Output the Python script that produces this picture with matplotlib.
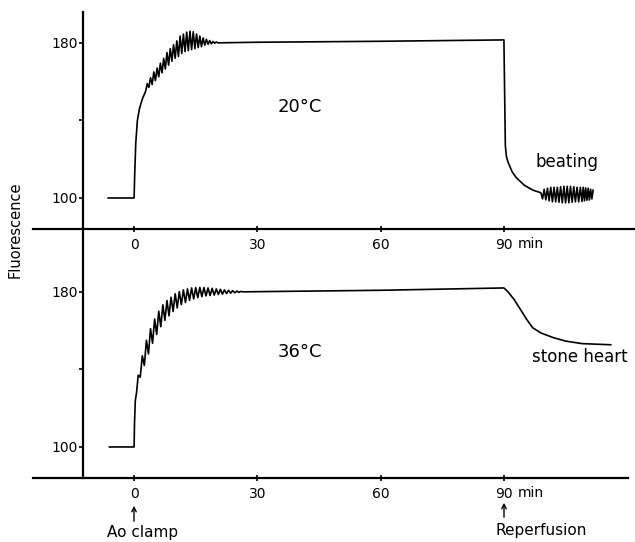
import matplotlib
matplotlib.use("Agg")
import matplotlib.pyplot as plt

# ---------------- data ----------------
# 20 °C panel (beating heart after reperfusion)
t20 = [-6.3, 0.0, 0.15, 0.4, 0.8, 1.3, 2.0, 2.8,
       3.2, 3.6, 4.0, 4.4, 4.8, 5.2, 5.6, 6.0, 6.4, 6.8, 7.2, 7.6, 8.0, 8.4,
       8.8, 9.2, 9.6, 10.0, 10.4, 10.8, 11.2, 11.6, 12.0, 12.4, 12.8, 13.2,
       13.6, 14.0, 14.4, 14.8, 15.2, 15.6, 16.0, 16.4, 16.8, 17.2, 17.6, 18.0,
       18.4, 18.8, 19.2, 19.6, 20.0, 20.4,
       30.0, 60.0, 89.8, 90.0, 90.2, 90.35, 90.6, 91.0, 92.0, 93.0, 95.0, 97.1, 99.0,
       99.4, 99.8, 100.2, 100.6, 101.0, 101.4, 101.8, 102.2, 102.6, 103.0,
       103.4, 103.8, 104.2, 104.6, 105.0, 105.4, 105.8, 106.2, 106.6, 107.0,
       107.4, 107.8, 108.2, 108.6, 109.0, 109.3, 109.6, 109.9, 110.2, 110.5,
       110.8, 111.1, 111.4, 111.7]
v20 = [100, 100, 112, 128, 140, 146, 151, 155,
       159, 157, 162, 158.5, 165, 160.5, 167, 162.5, 169.5, 164.5, 172, 166.5, 175, 168.5,
       177, 170.5, 179, 172, 181, 173, 183.5, 174.5, 184.5, 175.5, 185.5, 176,
       186, 176.5, 185.7, 177, 184.5, 177.5, 183.5, 178, 182.5, 178.8, 181.8, 179.2,
       181.2, 179.5, 180.7, 179.8, 180.4, 180.0,
       180.3, 180.8, 181.5, 181.5, 150, 127, 121.5, 118.5, 113.5, 110.5, 106.5, 104.0, 102.7,
       99.5, 104.5, 99, 105, 98.5, 105.5, 98, 105.5, 98, 105.5,
       97.8, 105.8, 97.5, 106, 97.5, 106, 97.5, 106, 97.8, 105.8,
       98, 105.5, 98, 105.5, 98.2, 105.5, 98.5, 105.2, 98.8, 105,
       99, 104.5, 99.5, 104]

# 36 °C panel (stone heart after reperfusion)
t36 = [-6.0, 0.0, 0.1, 0.3, 0.6,
       1.0, 1.5, 2.0, 2.5, 3.0, 3.5, 4.0, 4.5, 5.0, 5.5, 6.0, 6.5, 7.0, 7.5,
       8.0, 8.5, 9.0, 9.5, 10.0, 10.5, 11.0, 11.5, 12.0, 12.5, 13.0, 13.5,
       14.0, 14.5, 15.0, 15.5, 16.0, 16.5, 17.0, 17.5, 18.0, 18.5, 19.0, 19.5,
       20.0, 20.5, 21.0, 21.5, 22.0, 22.5, 23.0, 23.5, 24.0, 24.5, 25.0, 25.5,
       26.0, 26.5,
       60.0, 90.0, 91.0, 92.5, 94.0, 95.6, 97.0, 99.0, 102.0, 105.0, 109.0, 116.0]
v36 = [100, 100, 112, 124, 128,
       137, 136, 147, 142, 155, 148, 161, 153.5, 166, 158, 170, 162, 173.3, 165.3,
       175.5, 167.6, 177.2, 169.9, 179, 171.7, 180.1, 173.4, 181, 174.5, 181.5, 175.6,
       182, 176.3, 182.2, 177, 182.3, 177.5, 182.2, 177.9, 182, 178.1, 181.8, 178.3,
       181.5, 178.6, 181.3, 178.8, 181, 179.1, 180.8, 179.3, 180.6, 179.5, 180.4, 179.7,
       180.2, 180.0,
       180.8, 182.0, 180.0, 176.0, 171.0, 165.6, 161.5, 158.8, 156.4, 154.6, 153.3, 152.7]

x_ticks = [0, 30, 60, 90]
x_tick_labels = ["0", "30", "60", "90"]
y_ticks = [100, 140, 180]
y_tick_labels = ["100", "", "180"]

panel_labels = ["20°C", "36°C"]
end_labels = ["beating", "stone heart"]

# ---------------- figure ----------------
W, H = 635, 542
fig = plt.figure(figsize=(W / 100, H / 100), dpi=100)
fig.patch.set_facecolor("white")

ax_top = fig.add_axes([33 / W, 1 - 229 / H, (635 - 33) / W, (229 - 12) / H])
ax_bot = fig.add_axes([33 / W, 1 - 478 / H, (628 - 33) / W, (478 - 229) / H])

for ax in (ax_top, ax_bot):
    ax.set_facecolor("none")
    for s in ("top", "right"):
        ax.spines[s].set_visible(False)
    ax.spines["left"].set_position(("data", -12.4))
    ax.spines["left"].set_linewidth(1.6)
    ax.spines["bottom"].set_linewidth(1.6)
    ax.set_xticks(x_ticks)
    ax.set_xticklabels(x_tick_labels)
    ax.set_yticks(y_ticks)
    ax.set_yticklabels(y_tick_labels)
    ax.tick_params(axis="y", direction="out", length=3, width=1.2, labelsize=10, pad=1)
    ax.tick_params(axis="x", direction="inout", length=5, width=1.2, labelsize=10, pad=4)

ax_top.set_xlim(-24.6, 121.9)
ax_top.set_ylim(84, 195.9)
ax_bot.set_xlim(-24.6, 120.2)
ax_bot.set_ylim(84, 212.4)

ax_top.plot(t20, v20, color="black", lw=1.2, clip_on=False)
ax_bot.plot(t36, v36, color="black", lw=1.2, clip_on=False)

ax_top.text(40.4, 147, panel_labels[0], fontsize=13, ha="center", va="center")
ax_bot.text(40.4, 149, panel_labels[1], fontsize=13, ha="center", va="center")
ax_top.text(105.4, 118.6, end_labels[0], fontsize=12, ha="center", va="center")
ax_bot.text(108.5, 146.4, end_labels[1], fontsize=12, ha="center", va="center")

# "min" after the 90 tick label
for ypix in (244, 493):
    fig.text(518 / W, 1 - ypix / H, "min", fontsize=10, ha="left", va="center")

fig.text(15 / W, 1 - 230 / H, "Fluorescence", fontsize=10.5, rotation=90,
         ha="center", va="center")

# arrows + annotations
fig.text(143 / W, 1 - 532 / H, "Ao clamp", fontsize=11, ha="center", va="center")
fig.text(541 / W, 1 - 530 / H, "Reperfusion", fontsize=11, ha="center", va="center")
arrow_kw = dict(arrowstyle="->", color="black", lw=1.0, mutation_scale=8)
fig.add_artist(matplotlib.patches.FancyArrowPatch((134 / W, 1 - 524 / H), (134 / W, 1 - 503 / H),
                                                  transform=fig.transFigure, **arrow_kw))
fig.add_artist(matplotlib.patches.FancyArrowPatch((504 / W, 1 - 520 / H), (504 / W, 1 - 500 / H),
                                                  transform=fig.transFigure, **arrow_kw))

fig.savefig("out.png", dpi=100, facecolor="white")
